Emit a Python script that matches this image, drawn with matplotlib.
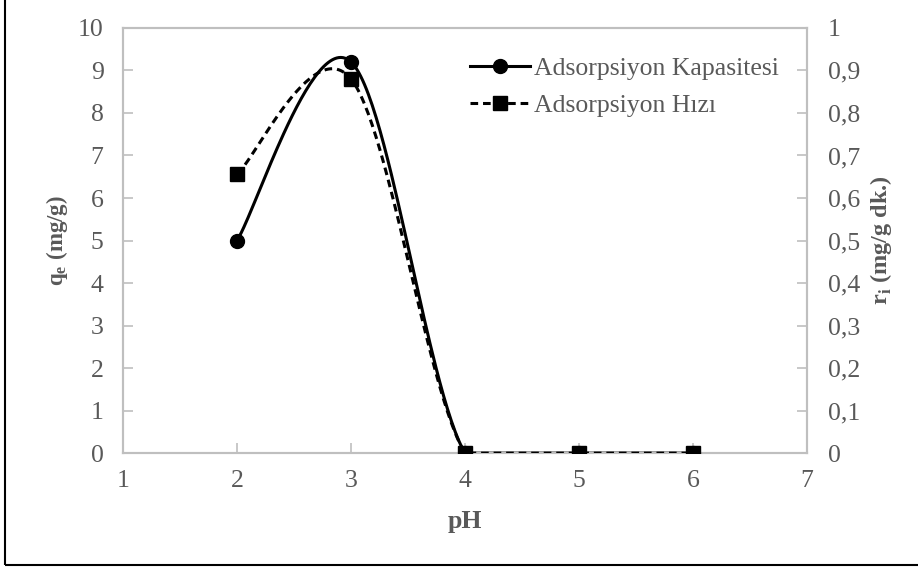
import numpy as np
import matplotlib.pyplot as plt
from matplotlib.lines import Line2D
from matplotlib.patches import Rectangle
from matplotlib.ticker import FuncFormatter

plt.rcParams['font.family'] = ['Liberation Serif', 'DejaVu Serif']
plt.rcParams['mathtext.fontset'] = 'custom'
plt.rcParams['mathtext.rm'] = 'Liberation Serif'
plt.rcParams['mathtext.bf'] = 'Liberation Serif:bold'

ph = [2, 3, 4, 5, 6]
capacity = [5.0, 9.2, 0.0, 0.0, 0.0]      # q_e (mg/g)
rate = [0.656, 0.88, 0.0, 0.0, 0.0]        # r_i (mg/g dk.)


def smooth(xs, ys, n=60):
    # Excel-style smoothed line: cubic Bezier with Catmull-Rom control points
    p = np.column_stack([xs, ys]).astype(float)
    pts = np.vstack([p[0], p, p[-1]])
    out = []
    t = np.linspace(0, 1, n)[:, None]
    for i in range(1, len(pts) - 2):
        p0, p3 = pts[i], pts[i + 1]
        c1 = p0 + (pts[i + 1] - pts[i - 1]) / 6
        c2 = p3 - (pts[i + 2] - pts[i]) / 6
        seg = ((1 - t) ** 3) * p0 + 3 * ((1 - t) ** 2) * t * c1 + 3 * (1 - t) * t ** 2 * c2 + t ** 3 * p3
        out.append(seg)
    c = np.vstack(out)
    return c[:, 0], np.maximum(c[:, 1], 0)


grey = '#bfbfbf'
txt = '#595959'
fs = 18.5

fig = plt.figure(figsize=(9.18, 5.70), dpi=100)
ax = fig.add_axes([0.134, 0.205, 0.745, 0.746])
ax2 = ax.twinx()

sx, sy = smooth(ph, capacity)
ax.plot(sx, sy, color='black', lw=2.2, zorder=3)
ax.plot(ph, capacity, 'o', color='black', ms=10, zorder=4)

rx, ry = smooth(ph, rate)
ax2.plot(rx, ry, color='black', lw=2.2, ls=(0, (2.5, 1.6)), zorder=3)
ax2.plot(ph, rate, 's', color='black', ms=10, zorder=4)

ax.set_xlim(1, 7)
ax.set_ylim(0, 10)
ax2.set_ylim(0, 1)
ax.set_xticks(range(1, 8))
ax.set_yticks(range(0, 11))
ax2.set_yticks(np.arange(0, 11) / 10)
ax2.yaxis.set_major_formatter(FuncFormatter(lambda v, _: ('%g' % round(v, 1)).replace('.', ',')))

for a in (ax, ax2):
    for s in a.spines.values():
        s.set_color(grey)
        s.set_linewidth(1.5)
    a.tick_params(direction='in', length=7, width=1.2, color=grey, labelcolor=txt, labelsize=fs)
ax.tick_params(axis='y', pad=14)
ax.tick_params(axis='x', pad=12)
ax2.tick_params(axis='y', pad=15)

ax.set_xlabel('pH', fontsize=fs, fontweight='bold', color=txt)
ax.xaxis.set_label_coords(0.5, -0.134)
ax.set_ylabel(r'q$_\mathbf{e}$ (mg/g)', fontsize=16.5, fontweight='bold', color=txt)
ax.yaxis.set_label_coords(-0.077, 0.5)
ax2.set_ylabel(r'r$_\mathbf{i}$ (mg/g dk.)', fontsize=17.5, fontweight='bold', color=txt)
ax2.yaxis.set_label_coords(1.09, 0.5)

handles = [
    Line2D([], [], color='black', lw=2.2, marker='o', ms=10),
    Line2D([], [], color='black', lw=2.2, ls=(0, (2.5, 1.6)), marker='s', ms=10),
]
leg = ax.legend(handles, ['Adsorpsiyon Kapasitesi', 'Adsorpsiyon Hızı'], loc='upper right',
                frameon=False, fontsize=fs, handlelength=2.35, handletextpad=0.15,
                labelspacing=0.55, borderaxespad=0.3, bbox_to_anchor=(0.985, 0.975))
for t in leg.get_texts():
    t.set_color(txt)

fig.patches.append(Rectangle((0.005, 0.008), 1.2, 1.2, transform=fig.transFigure,
                             fill=False, edgecolor='black', lw=1.5))

fig.savefig('out.png', dpi=100)
